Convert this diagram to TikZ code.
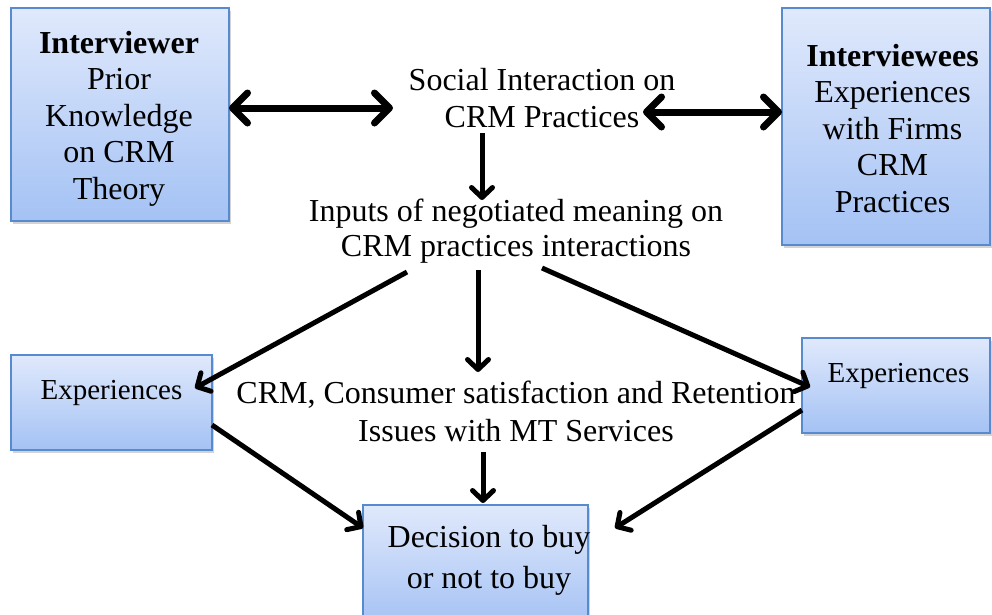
\documentclass[tikz,border=0pt]{standalone}
\usepackage{fontspec}
\setmainfont{Liberation Serif}
\usetikzlibrary{arrows.meta,shadows}
\definecolor{boxtop}{RGB}{224,233,252}
\definecolor{boxbot}{RGB}{164,194,244}
\definecolor{boxline}{RGB}{88,138,208}
\begin{document}
\begin{tikzpicture}[x=1pt,y=-1pt,
  box/.style={draw=boxline, line width=1.5pt, top color=boxtop, bottom color=boxbot,
    drop shadow={shadow xshift=2pt,shadow yshift=-3pt,opacity=0.35}, inner sep=0pt},
  txt/.style={align=center, inner sep=0pt, anchor=base},
  big/.style={font=\fontsize{32}{36.5}\selectfont},
  dblarr/.style={line width=7pt, line cap=round,
    {Straight Barb[length=15pt,width=30pt,line cap=round,line join=round]}-{Straight Barb[length=15pt,width=30pt,line cap=round,line join=round]}},
  arr/.style={line width=5pt,
    -{Straight Barb[length=10pt,width=21pt,line cap=round,line join=round]}}
]
\useasboundingbox (0,0) rectangle (992,614);

% boxes
\node[box, minimum width=218pt, minimum height=213pt] (IR) at (120,114.5) {};
\node[box, minimum width=208pt, minimum height=237pt] (IE) at (886,126.5) {};
\node[box, minimum width=201pt, minimum height=95pt] (EL) at (111.5,402.5) {};
\node[box, minimum width=188pt, minimum height=95pt] (ER) at (896,385.5) {};
\node[box, minimum width=225pt, minimum height=120pt] (DB) at (475.5,565) {};

% texts (anchor = baseline of the last line)
\node[txt, big] (IRt) at (119,199) {\textbf{Interviewer}\\Prior\\Knowledge\\on CRM\\Theory};
\node[txt, big] (IEt) at (892.5,212) {\textbf{Interviewees}\\Experiences\\with Firms\\CRM\\Practices};
\node[txt, big] (SI) at (542,127) {Social Interaction on\\CRM Practices};
\node[txt, font=\fontsize{32}{35}\selectfont] (IN) at (516,256) {Inputs of negotiated meaning on\\CRM practices interactions};
\node[txt, font=\fontsize{32}{38}\selectfont] (CR) at (516,441) {CRM, Consumer satisfaction and Retention\\Issues with MT Services};
\node[txt, font=\fontsize{29}{34}\selectfont] (ELt) at (111.5,399) {Experiences};
\node[txt, font=\fontsize{29}{34}\selectfont] (ERt) at (898.5,382) {Experiences};
\node[txt, font=\fontsize{32}{41}\selectfont] (DBt) at (489,588) {Decision to buy\\or not to buy};

% connector end points
\coordinate (a1) at (229,108);
\coordinate (a2) at (393,108);
\coordinate (b1) at (643,112);
\coordinate (b2) at (782,112);
\coordinate (c1) at (482,133);
\coordinate (c2) at (482,200);
\coordinate (d1) at (407,272);
\coordinate (d2) at (195,388);
\coordinate (e1) at (478,270);
\coordinate (e2) at (478,372);
\coordinate (f1) at (542,268);
\coordinate (f2) at (810,387);
\coordinate (g1) at (212,425);
\coordinate (g2) at (363,528);
\coordinate (h1) at (483,452);
\coordinate (h2) at (483,503);
\coordinate (k1) at (802,410);
\coordinate (k2) at (615,528);

\draw[dblarr] (a1) -- (a2);
\draw[dblarr] (b1) -- (b2);
\draw[arr] (c1) -- (c2);
\draw[arr] (d1) -- (d2);
\draw[arr] (e1) -- (e2);
\draw[arr] (f1) -- (f2);
\draw[arr] (g1) -- (g2);
\draw[arr] (h1) -- (h2);
\draw[arr] (k1) -- (k2);
\end{tikzpicture}
\end{document}
